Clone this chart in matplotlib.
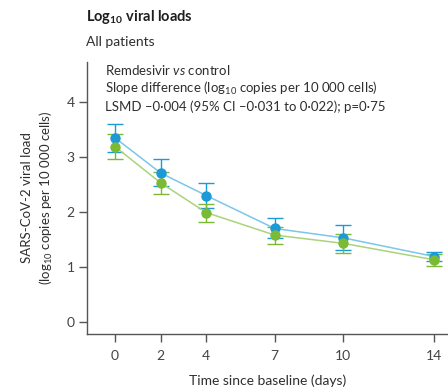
import matplotlib
matplotlib.use("Agg")
import matplotlib.pyplot as plt

plt.rcParams['font.family'] = ['Lato', 'DejaVu Sans']
plt.rcParams['mathtext.fontset'] = 'custom'
plt.rcParams['mathtext.rm'] = 'Lato'
plt.rcParams['mathtext.it'] = 'Lato:italic'
plt.rcParams['mathtext.bf'] = 'Lato:bold'

days = [0, 2, 4, 7, 10, 14]
tick_labels = ["0", "2", "4", "7", "10", "14"]

# blue series
blue_mean = [3.35, 2.71, 2.30, 1.70, 1.53, 1.19]
blue_lo = [3.10, 2.47, 2.08, 1.52, 1.31, 1.10]
blue_hi = [3.60, 2.96, 2.52, 1.90, 1.76, 1.28]

# green series
green_mean = [3.19, 2.53, 1.99, 1.58, 1.43, 1.13]
green_lo = [2.96, 2.33, 1.82, 1.42, 1.25, 1.01]
green_hi = [3.42, 2.73, 2.15, 1.72, 1.60, 1.24]

blue = "#1a9ad6"
green = "#7cba36"
axcol = "#555555"
txt = "#2e2e2e"

fig = plt.figure(figsize=(4.48, 3.90), dpi=100)
ax = fig.add_axes([87/448, 56/390, 1 - 87/448, (334-62)/390])

for mean, lo, hi, c, lc in [(blue_mean, blue_lo, blue_hi, blue, "#7cc6ea"),
                            (green_mean, green_lo, green_hi, green, "#a9d47a")]:
    err = [[m - l for m, l in zip(mean, lo)], [h - m for m, h in zip(mean, hi)]]
    ax.errorbar(days, mean, yerr=err, fmt='none', ecolor=c, elinewidth=1.0,
                capsize=5.5, capthick=1.0, zorder=2)
    ax.plot(days, mean, color=lc, lw=1.1, zorder=3)
    ax.plot(days, mean, 'o', color=c, ms=7.5, mec='none', zorder=4)

ax.set_xlim(-1.23, 14.6)
ax.set_ylim(-0.22, 4.73)
ax.set_xticks(days)
ax.set_xticklabels(tick_labels)
ax.set_yticks([0, 1, 2, 3, 4])

for s in ['top', 'right']:
    ax.spines[s].set_visible(False)
for s in ['left', 'bottom']:
    ax.spines[s].set_color(axcol)
    ax.spines[s].set_linewidth(1.0)
ax.tick_params(axis='both', colors=axcol, labelcolor="#444444", labelsize=10,
               length=5.5, width=1.0)
ax.tick_params(axis='x', pad=6)

ax.set_xlabel("Time since baseline (days)", fontsize=10, color=txt, labelpad=9)
ax.set_ylabel("SARS-CoV-2 viral load\n(log$_{10}$ copies per 10 000 cells)",
              fontsize=9.5, color=txt, labelpad=8, linespacing=1.4)

fig.text(86/448, 1 - 17/390, "Log$_{\\mathbf{10}}$ viral loads", fontsize=10.5,
         fontweight='bold', color="#1e1e1e", va='center')
fig.text(86/448, 1 - 42/390, "All patients", fontsize=10, color=txt, va='center')

ann = ("Remdesivir $\\mathit{vs}$ control\n"
       "Slope difference (log$_{10}$ copies per 10 000 cells)\n"
       "LSMD \u20130\u00b7004 (95% CI \u20130\u00b7031 to 0\u00b7022); p=0\u00b775")
fig.text(105/448, 1 - 63/390, ann, fontsize=9.5, color=txt, va='top',
         linespacing=1.25)

fig.savefig("out.png", dpi=100)
